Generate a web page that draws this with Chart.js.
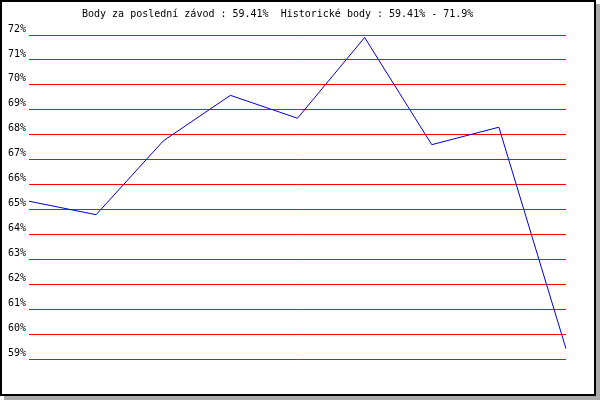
<!DOCTYPE html>
<html lang="cs">
<head>
    <meta charset="UTF-8" />
    <title>Body za závody</title>
    <script src="https://cdn.jsdelivr.net/npm/chart.js"></script>
    <style>
        body {
            margin: 0;
            background: #fff;
        }
        .frame {
            position: absolute;
            left: 0;
            top: 0;
            width: 592px;
            height: 392px;
            border: 2px solid #000;
            background: #fff;
            box-shadow: 4px 4px 0 #aaaaaa;
        }
        canvas {
            position: absolute;
            left: 0;
            top: 0;
        }
    </style>
</head>
<body>
    <div class="frame"></div>
    <canvas id="chart" width="600" height="400"></canvas>

    <script>
        const races = ['1', '2', '3', '4', '5', '6', '7', '8', '9'];
        const points = [65.33, 64.79, 67.75, 69.58, 68.66, 71.9, 67.6, 68.3, 59.41];
        const yTicks = [59, 60, 61, 62, 63, 64, 65, 66, 67, 68, 69, 70, 71, 72];
        const titleText = 'Body za poslední závod : 59.41%  Historické body : 59.41% - 71.9%';

        const monoFont = { family: "'DejaVu Sans Mono', monospace", size: 10 };

        // title drawn straight on the canvas, left-anchored like the original
        const titlePlugin = {
            id: 'oldTitle',
            afterDraw(chart) {
                const ctx = chart.ctx;
                ctx.save();
                ctx.font = "10px 'DejaVu Sans Mono', monospace";
                ctx.fillStyle = '#000';
                ctx.textBaseline = 'middle';
                ctx.textAlign = 'left';
                ctx.fillText(titleText, 82, 14);
                ctx.restore();
            }
        };

        const ctx = document.getElementById('chart').getContext('2d');
        const chart = new Chart(ctx, {
            type: 'line',
            data: {
                labels: races,
                datasets: [{
                    data: points,
                    borderColor: '#0000cc',
                    borderWidth: 1,
                    pointRadius: 0,
                    tension: 0,
                    fill: false
                }]
            },
            options: {
                responsive: false,
                animation: false,
                layout: { padding: { left: 0, top: 35, right: 34, bottom: 41 } },
                plugins: {
                    legend: { display: false },
                    title: { display: false },
                    tooltip: { enabled: false }
                },
                scales: {
                    x: { display: false, offset: false },
                    y: {
                        min: 59,
                        max: 72,
                        afterBuildTicks: s => { s.ticks = yTicks.map(v => ({ value: v })); },
                        afterFit: s => { s.width = 29; },
                        border: { display: false },
                        grid: { color: '#ff0000', lineWidth: 1, drawTicks: false },
                        ticks: {
                            color: '#000',
                            font: monoFont,
                            padding: 3,
                            labelOffset: -6,
                            callback: v => v + '%'
                        }
                    }
                }
            },
            plugins: [titlePlugin]
        });
    </script>
</body>
</html>
